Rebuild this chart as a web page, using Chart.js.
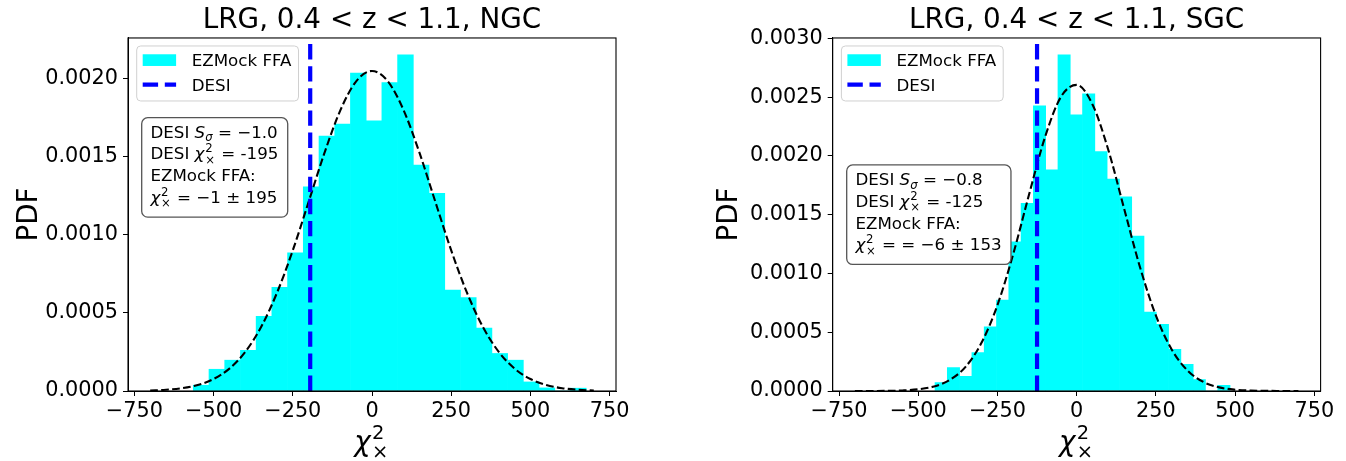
<!DOCTYPE html>
<html>
<head>
<meta charset="utf-8">
<script src="https://cdn.jsdelivr.net/npm/chart.js@4/dist/chart.umd.min.js"></script>
<style>
  html, body { margin: 0; padding: 0; background: #fff; }
  #wrap { position: relative; width: 1346px; height: 461px; }
  .panel { position: absolute; top: 0; width: 673px; height: 461px; }
  #ngcPanel { left: 0; }
  #sgcPanel { left: 673px; }
</style>
</head>
<body>
<div id="wrap">
  <div class="panel" id="ngcPanel"><canvas id="ngcChart"></canvas></div>
  <div class="panel" id="sgcPanel"><canvas id="sgcChart"></canvas></div>
</div>
<script>
// histogram of EZMock chi2_x, density per bin
const ngcBinStart = -564;
const ngcBinWidth = 49.6;
const ngcDensity = [
  0.000037, 0.000139, 0.000197, 0.000260, 0.000478, 0.000662, 0.000884,
  0.001306, 0.001630, 0.001707, 0.002032, 0.001727, 0.001972, 0.002149,
  0.001445, 0.001264, 0.000645, 0.000598, 0.000403, 0.000240, 0.000197,
  0.000058, 0.000020, 0.000000, 0.000018,
];
const ngcDesi = -195;

const sgcBinStart = -447;
const sgcBinWidth = 38.8;
const sgcDensity = [
  0.000072, 0.000199, 0.000125, 0.000327, 0.000545, 0.000773, 0.001270,
  0.001597, 0.002426, 0.001881, 0.002861, 0.002350, 0.002529, 0.002037,
  0.001804, 0.001653, 0.001318, 0.000671, 0.000568, 0.000355, 0.000227,
  0.000097, 0.000000, 0.000049,
];
const sgcDesi = -125;

// gaussian fit curves (dashed black), sampled off the plot
const curveX = [
  -700, -650, -600, -550, -500, -450, -400, -350, -300, -250, -200, -150, -100, -50,
  0, 50, 100, 150, 200, 250, 300, 350, 400, 450, 500, 550, 600, 650, 700,
];
const ngcCurve = [
  0.0000033, 0.0000079, 0.0000180, 0.0000383, 0.0000764, 0.000143, 0.000250,
  0.000409, 0.000627, 0.000899, 0.001209, 0.001522, 0.001794, 0.001980,
  0.002046, 0.001980, 0.001794, 0.001522, 0.001209, 0.000899, 0.000627,
  0.000409, 0.000250, 0.000143, 0.0000764, 0.0000383, 0.0000180, 0.0000079, 0.0000033,
];
const sgcCurve = [
  0.0000001, 0.0000004, 0.0000014, 0.0000047, 0.0000142, 0.0000387, 0.0000947,
  0.000208, 0.000412, 0.000731, 0.001167, 0.001674, 0.002159, 0.002501,
  0.002605, 0.002438, 0.002051, 0.001550, 0.001053, 0.000643, 0.000353,
  0.000174, 0.0000771, 0.0000307, 0.0000110, 0.0000035, 0.0000010, 0.0000003, 0.0000001,
];

const xTicks = [-750, -500, -250, 0, 250, 500, 750];
const xRange = [-770, 770];
const ngcYTicks = [0, 0.0005, 0.001, 0.0015, 0.002];
const ngcYMax = 0.002257;
const sgcYTicks = [0, 0.0005, 0.001, 0.0015, 0.002, 0.0025, 0.003];
const sgcYMax = 0.003004;

const ngcNote = [
  [{ t: "DESI " }, { t: "S", it: true }, { t: "σ", it: true, lo: true }, { t: " = −1.0" }],
  [{ t: "DESI " }, { t: "χ", it: true }, { hi: "2", lo: "×" }, { t: " = -195" }],
  [{ t: "EZMock FFA:" }],
  [{ t: "χ", it: true }, { hi: "2", lo: "×" }, { t: " = −1 ± 195" }],
];
const sgcNote = [
  [{ t: "DESI " }, { t: "S", it: true }, { t: "σ", it: true, lo: true }, { t: " = −0.8" }],
  [{ t: "DESI " }, { t: "χ", it: true }, { hi: "2", lo: "×" }, { t: " = -125" }],
  [{ t: "EZMock FFA:" }],
  [{ t: "χ", it: true }, { hi: "2", lo: "×" }, { t: " = = −6 ± 153" }],
];
const xLabel = [{ t: "χ", it: true }, { hi: "2", lo: "×" }];

const FAMILY = "'DejaVu Sans', sans-serif";
Chart.defaults.font.family = FAMILY;
Chart.defaults.color = "#000";

function setFont(ctx, size, italic) {
  ctx.font = `${italic ? "italic " : ""}${size}px ${FAMILY}`;
}

function richWidth(ctx, segs, size) {
  let w = 0;
  segs.forEach((s) => {
    if (s.hi) {
      setFont(ctx, size * 0.7, false);
      w += Math.max(ctx.measureText(s.hi).width, ctx.measureText(s.lo).width) + size * 0.1;
    } else {
      const small = s.lo ? 0.7 : 1;
      setFont(ctx, size * small, s.it);
      w += ctx.measureText(s.t).width;
    }
  });
  return w;
}

function drawRich(ctx, segs, x, y, size) {
  let cx = x;
  ctx.textBaseline = "alphabetic";
  ctx.textAlign = "left";
  segs.forEach((s) => {
    if (s.hi) {
      setFont(ctx, size * 0.7, false);
      const w = Math.max(ctx.measureText(s.hi).width, ctx.measureText(s.lo).width);
      ctx.fillText(s.hi, cx + size * 0.05, y - size * 0.42);
      ctx.fillText(s.lo, cx + size * 0.05, y + size * 0.26);
      cx += w + size * 0.1;
    } else if (s.lo) {
      setFont(ctx, size * 0.7, s.it);
      ctx.fillText(s.t, cx, y + size * 0.22);
      cx += ctx.measureText(s.t).width;
    } else {
      setFont(ctx, size, s.it);
      ctx.fillText(s.t, cx, y);
      cx += ctx.measureText(s.t).width;
    }
  });
}

function roundRect(ctx, x, y, w, h, r) {
  ctx.beginPath();
  ctx.moveTo(x + r, y);
  ctx.arcTo(x + w, y, x + w, y + h, r);
  ctx.arcTo(x + w, y + h, x, y + h, r);
  ctx.arcTo(x, y + h, x, y, r);
  ctx.arcTo(x, y, x + w, y, r);
  ctx.closePath();
}

// spines, legend, note box and x label drawn like matplotlib
const decorPlugin = {
  id: "decor",
  afterDatasetsDraw(chart, args, opts) {
    const { ctx, chartArea: a } = chart;
    ctx.save();
    ctx.strokeStyle = "#000";
    ctx.lineWidth = 1.1;
    ctx.strokeRect(a.left, a.top, a.right - a.left, a.bottom - a.top);

    // legend
    const fs = 16.7;
    setFont(ctx, fs, false);
    const items = chart.data.datasets.filter((d) => d.label);
    const textW = Math.max(...items.map((d) => ctx.measureText(d.label).width));
    const lx = a.left + 8.7;
    const ly = a.top + 8;
    const lw = 55 + textW + 7;
    roundRect(ctx, lx, ly, lw, 55, 4);
    ctx.fillStyle = "rgba(255,255,255,0.8)";
    ctx.fill();
    ctx.strokeStyle = "#d0d0d0";
    ctx.lineWidth = 1;
    ctx.stroke();
    items.forEach((d, i) => {
      const base = ly + 20 + i * 24.7;
      if (d.type === "bar") {
        ctx.fillStyle = d.backgroundColor;
        ctx.fillRect(lx + 6, base - 11.7, 33.4, 11.7);
      } else {
        ctx.strokeStyle = d.borderColor;
        ctx.lineWidth = d.borderWidth;
        ctx.setLineDash(d.borderDash);
        ctx.beginPath();
        ctx.moveTo(lx + 6, base - 6);
        ctx.lineTo(lx + 39.4, base - 6);
        ctx.stroke();
        ctx.setLineDash([]);
      }
      ctx.fillStyle = "#000";
      setFont(ctx, fs, false);
      ctx.textBaseline = "alphabetic";
      ctx.fillText(d.label, lx + 55, base);
    });

    // note box
    const bx = a.left + opts.noteDx;
    const by = a.top + opts.noteDy;
    const bw = Math.max(...opts.note.map((l) => richWidth(ctx, l, fs))) + 18;
    roundRect(ctx, bx, by, bw, 99.5, 6);
    ctx.fillStyle = "#fff";
    ctx.fill();
    ctx.strokeStyle = "#555";
    ctx.lineWidth = 1.3;
    ctx.stroke();
    ctx.fillStyle = "#000";
    opts.note.forEach((line, i) => drawRich(ctx, line, bx + 8.7, by + 20 + i * 21.8, fs));

    // x axis label
    const xs = 27.8;
    const w = richWidth(ctx, xLabel, xs);
    drawRich(ctx, xLabel, (a.left + a.right) / 2 - w / 2, 451, xs);
    ctx.restore();
  },
};

function minusFormat(v) {
  return v < 0 ? "\u2212" + Math.abs(v) : String(v);
}

function makeChart(canvasId, cfg) {
  const bars = cfg.density.map((v, i) => ({ x: cfg.binStart + cfg.binWidth * (i + 0.5), y: v }));
  const curve = curveX.map((x, i) => ({ x, y: cfg.curve[i] }));
  const tickFont = { size: 20.8 };

  return new Chart(document.getElementById(canvasId), {
    type: "bar",
    data: {
      datasets: [
        {
          type: "bar", label: "EZMock FFA", data: bars, order: 2,
          backgroundColor: "#00ffff", borderWidth: 0,
          barPercentage: 1, categoryPercentage: 1,
        },
        {
          type: "line", label: "", data: curve, order: 1,
          borderColor: "#000", borderWidth: 2.1, borderDash: [7.7, 3.3],
          pointRadius: 0, cubicInterpolationMode: "monotone",
        },
        {
          type: "line", label: "DESI", order: 0,
          data: [{ x: cfg.desi, y: 0 }, { x: cfg.desi, y: cfg.yMax }],
          borderColor: "#0000ff", borderWidth: 4.2, borderDash: [15.4, 6.7],
          pointRadius: 0,
        },
      ],
    },
    options: {
      responsive: true,
      maintainAspectRatio: false,
      animation: false,
      devicePixelRatio: 1,
      layout: { padding: { left: 0, right: cfg.padRight, top: 0, bottom: 0 } },
      plugins: {
        legend: { display: false },
        tooltip: { enabled: false },
        title: {
          display: true, text: cfg.title, fullSize: false,
          font: { size: 27.8, weight: "normal", lineHeight: 1.15 }, color: "#000",
          padding: { top: 4.8, bottom: 1.2 },
        },
        decor: { note: cfg.note, noteDx: cfg.noteDx, noteDy: cfg.noteDy },
      },
      scales: {
        x: {
          type: "linear", min: xRange[0], max: xRange[1], offset: false,
          grid: { drawOnChartArea: false, drawTicks: true, tickLength: 5, tickColor: "#000", offset: false },
          border: { display: true, color: "#000", width: 1 },
          ticks: { font: tickFont, color: "#000", padding: 3, maxRotation: 0, autoSkip: false, callback: minusFormat },
          afterBuildTicks: (axis) => { axis.ticks = xTicks.map((v) => ({ value: v })); },
          afterFit: (axis) => { axis.height = 70; },
        },
        y: {
          min: 0, max: cfg.yMax,
          grid: { drawOnChartArea: false, drawTicks: true, tickLength: 5, tickColor: "#000" },
          border: { display: true, color: "#000", width: 1 },
          ticks: { font: tickFont, color: "#000", padding: 5, callback: (v) => v.toFixed(4) },
          afterBuildTicks: (axis) => { axis.ticks = cfg.yTicks.map((v) => ({ value: v })); },
          afterFit: (axis) => { axis.width = cfg.yAxisWidth; },
          title: {
            display: true, text: "PDF", color: "#000",
            font: { size: 27.8 }, padding: { top: cfg.yTitlePad, bottom: 0 },
          },
        },
      },
    },
    plugins: [decorPlugin],
  });
}

makeChart("ngcChart", {
  title: "LRG, 0.4 < z < 1.1, NGC",
  density: ngcDensity, binStart: ngcBinStart, binWidth: ngcBinWidth,
  curve: ngcCurve, desi: ngcDesi, yMax: ngcYMax, yTicks: ngcYTicks,
  note: ngcNote, noteDx: 13.7, noteDy: 79.7,
  yAxisWidth: 128, padRight: 57, yTitlePad: 13.5,
});

makeChart("sgcChart", {
  title: "LRG, 0.4 < z < 1.1, SGC",
  density: sgcDensity, binStart: sgcBinStart, binWidth: sgcBinWidth,
  curve: sgcCurve, desi: sgcDesi, yMax: sgcYMax, yTicks: sgcYTicks,
  note: sgcNote, noteDx: 14, noteDy: 127,
  yAxisWidth: 159.7, padRight: 25.4, yTitlePad: 40.5,
});
</script>
</body>
</html>
